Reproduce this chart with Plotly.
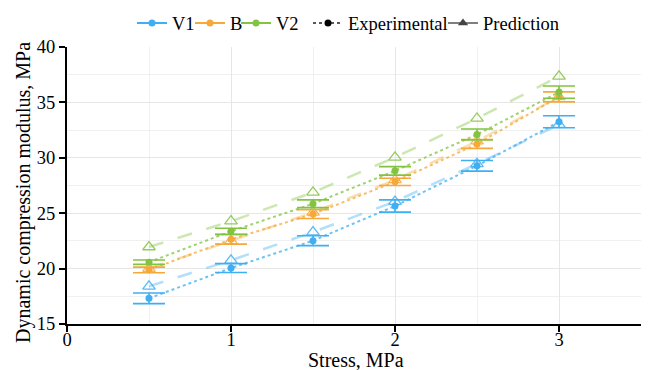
import plotly.graph_objects as go

stress = [0.5, 1.0, 1.5, 2.0, 2.5, 3.0]

v1_exp = [17.32, 20.05, 22.52, 25.65, 29.28, 33.25]
v1_err = [0.48, 0.40, 0.45, 0.55, 0.48, 0.54]
v1_pred = [18.40, 20.75, 23.30, 26.05, 29.45, 33.00]

b_exp = [19.88, 22.64, 24.92, 27.83, 31.25, 35.50]
b_err = [0.25, 0.43, 0.40, 0.33, 0.40, 0.45]
b_pred = [20.00, 22.50, 25.08, 28.00, 31.50, 35.50]

v2_exp = [20.58, 23.37, 25.85, 28.82, 32.10, 35.93]
v2_err = [0.20, 0.27, 0.35, 0.38, 0.50, 0.55]
v2_pred = [21.95, 24.28, 26.88, 30.04, 33.55, 37.35]

x_title = "Stress, MPa"
y_title = "Dynamic compression modulus, MPa"

series = [
    ("V1", "#3FAEF2", v1_exp, v1_err, v1_pred),
    ("B", "#F4A93A", b_exp, b_err, b_pred),
    ("V2", "#82C341", v2_exp, v2_err, v2_pred),
]

def rgba(hex_color, a):
    h = hex_color.lstrip("#")
    r, g, b = int(h[0:2], 16), int(h[2:4], 16), int(h[4:6], 16)
    return f"rgba({r},{g},{b},{a})"

FONT = "'Liberation Serif', 'Times New Roman', Times, serif"
L, R, T, B = 67, 8, 47, 46
PLOT_W = 649 - L - R
PLOT_H = 370 - T - B

fig = go.Figure()

for name, color, exp, err, pred in series:
    fig.add_trace(go.Scatter(
        x=stress, y=pred, mode="lines+markers",
        line=dict(color=rgba(color, 0.4), width=2.5, dash="longdash"),
        marker=dict(symbol="triangle-up-open", size=11,
                    color=rgba(color, 0.85), line=dict(width=1.3)),
        showlegend=False, hoverinfo="skip",
    ))
for name, color, exp, err, pred in series:
    fig.add_trace(go.Scatter(
        x=stress, y=exp, mode="lines+markers", name=name,
        line=dict(color=rgba(color, 0.75), width=2, dash="dot"),
        marker=dict(symbol="circle", size=7, color=color),
        error_y=dict(type="data", array=err, visible=True,
                     color=color, thickness=1.6, width=16),
        showlegend=False,
    ))

# legend entries, each in its own legend box for tight spacing
legend_text_px = [172, 230, 276, 348, 483]
legend_ids = ["legend", "legend2", "legend3", "legend4", "legend5"]

for i, (name, color, exp, err, pred) in enumerate(series):
    fig.add_trace(go.Scatter(
        x=[None], y=[None], mode="lines+markers", name=name,
        line=dict(color=color, width=2),
        marker=dict(symbol="circle", size=7, color=color),
        legend=legend_ids[i],
    ))
fig.add_trace(go.Scatter(
    x=[None], y=[None], mode="lines+markers", name="Experimental",
    line=dict(color="#222222", width=1.5, dash="dot"),
    marker=dict(symbol="circle", size=7, color="black"),
    legend=legend_ids[3],
))
fig.add_trace(go.Scatter(
    x=[None], y=[None], mode="lines+markers", name="Prediction",
    line=dict(color="#555555", width=1.5),
    marker=dict(symbol="triangle-up", size=9, color="#444444"),
    legend=legend_ids[4],
))

legend_cfg = {}
for lid, tx in zip(legend_ids, legend_text_px):
    legend_cfg[lid] = dict(
        orientation="h", x=(tx - 40 - L) / PLOT_W, xanchor="left",
        y=1.016, yanchor="bottom", itemwidth=30,
        font=dict(family=FONT, size=18.5, color="black"),
        bgcolor="rgba(0,0,0,0)", borderwidth=0,
    )

fig.update_layout(
    width=649, height=370,
    margin=dict(l=L, r=R, t=T, b=B, autoexpand=False),
    paper_bgcolor="white", plot_bgcolor="white",
    font=dict(family=FONT, size=19, color="black"),
    xaxis=dict(
        range=[0, 3.5], tickvals=[0, 1, 2, 3],
        showgrid=True, gridcolor="#e6e6e6", gridwidth=1,
        minor=dict(dtick=0.5, showgrid=True, gridcolor="#f0f0f0", gridwidth=1),
        showline=True, linecolor="black", linewidth=2,
        ticks="outside", ticklen=6, tickwidth=2, tickcolor="black",
        zeroline=False, ticklabelstandoff=-8,
        tickfont=dict(family=FONT, size=18.5, color="black"),
    ),
    yaxis=dict(
        range=[15, 40], tickvals=[15, 20, 25, 30, 35, 40],
        showgrid=True, gridcolor="#e6e6e6", gridwidth=1,
        minor=dict(dtick=2.5, showgrid=True, gridcolor="#f0f0f0", gridwidth=1),
        showline=True, linecolor="black", linewidth=2,
        ticks="outside", ticklen=6, tickwidth=2, tickcolor="black",
        zeroline=False,
        tickfont=dict(family=FONT, size=18.5, color="black"),
    ),
    annotations=[
        dict(text=x_title, xref="paper", yref="paper",
             x=(355.5 - L) / PLOT_W, y=-(360 - (370 - B)) / PLOT_H,
             xanchor="center", yanchor="middle", showarrow=False,
             font=dict(family=FONT, size=20, color="black")),
        dict(text=y_title, xref="paper", yref="paper",
             x=-(L - 24) / PLOT_W, y=((370 - B) - 193) / PLOT_H,
             xanchor="center", yanchor="middle", textangle=-90, showarrow=False,
             font=dict(family=FONT, size=20, color="black")),
    ],
    **legend_cfg,
)

fig.write_html("out.html")
